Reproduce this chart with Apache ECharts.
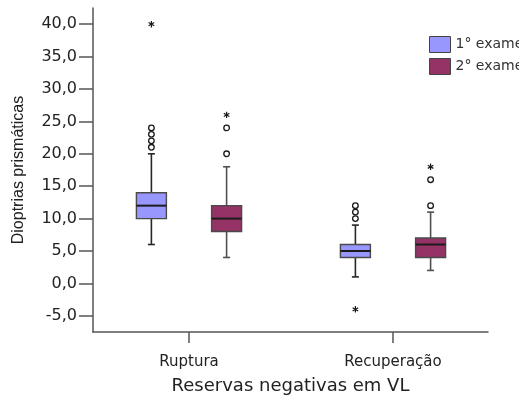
<!DOCTYPE html>
<html>
<head>
<meta charset="utf-8">
<script src="https://cdn.jsdelivr.net/npm/echarts@6/dist/echarts.min.js"></script>
<style>
  html, body { margin: 0; padding: 0; background: #fff; }
  #chart { width: 519px; height: 403px; }
</style>
</head>
<body>
<div id="chart"></div>
<script>
// Categories on the x axis
const categories = ['Ruptura', 'Recuperação'];
const seriesNames = ['1° exame', '2° exame'];

// Five-number summaries [min, Q1, median, Q3, max] per category
const exam1Box = [[6, 10, 12, 14, 20], [1, 4, 5, 6, 9]];
const exam2Box = [[4, 8, 10, 12, 18], [2, 4, 6, 7, 11]];

// Outliers (circles) and extreme values (asterisks) per category
const exam1Outliers = [[21, 22, 23, 24], [10, 11, 12]];
const exam1Extremes = [[40], [-4]];
const exam2Outliers = [[20, 24], [12, 16]];
const exam2Extremes = [[26], [18]];

// Y axis tick values
const yTicks = [-5, 0, 5, 10, 15, 20, 25, 30, 35, 40];

const colors = ['#9797fd', '#953366'];
const whiskerColors = ['#262626', '#505050'];
const BOX_OFFSET = 37.6;   // px from category centre
const BOX_HALF = 15;
const CAP_HALF = 3.5;

function boxData(box) {
  return box.map((v, i) => [i].concat(v));
}
function pointData(outliers, extremes) {
  const out = [];
  outliers.forEach((vals, i) => vals.forEach(v => out.push([i, v, 0])));
  extremes.forEach((vals, i) => vals.forEach(v => out.push([i, v, 1])));
  return out;
}

function boxRenderer(idx) {
  const sign = idx === 0 ? -1 : 1;
  return function (params, api) {
    const ci = api.value(0);
    const xc = api.coord([ci, api.value(3)])[0] + sign * BOX_OFFSET;
    const y = k => api.coord([ci, api.value(k)])[1];
    const yMin = y(1), yQ1 = y(2), yMed = y(3), yQ3 = y(4), yMax = y(5);
    const wStyle = { stroke: whiskerColors[idx], lineWidth: 1.6 };
    return {
      type: 'group',
      children: [
        { type: 'line', shape: { x1: xc, y1: yMax, x2: xc, y2: yQ3 }, style: wStyle },
        { type: 'line', shape: { x1: xc, y1: yQ1, x2: xc, y2: yMin }, style: wStyle },
        { type: 'line', shape: { x1: xc - CAP_HALF, y1: yMax, x2: xc + CAP_HALF, y2: yMax }, style: wStyle },
        { type: 'line', shape: { x1: xc - CAP_HALF, y1: yMin, x2: xc + CAP_HALF, y2: yMin }, style: wStyle },
        { type: 'rect', shape: { x: xc - BOX_HALF, y: yQ3, width: 2 * BOX_HALF, height: yQ1 - yQ3 },
          style: { fill: colors[idx], stroke: '#4a4a4a', lineWidth: 1.4 } },
        { type: 'line', shape: { x1: xc - BOX_HALF, y1: yMed, x2: xc + BOX_HALF, y2: yMed },
          style: { stroke: '#1c1c1c', lineWidth: 2 } }
      ]
    };
  };
}

function pointRenderer(idx) {
  const sign = idx === 0 ? -1 : 1;
  return function (params, api) {
    const p = api.coord([api.value(0), api.value(1)]);
    const x = p[0] + sign * BOX_OFFSET, yy = p[1];
    if (api.value(2) === 0) {
      return { type: 'circle', shape: { cx: x, cy: yy, r: 2.8 },
               style: { fill: '#fff', stroke: '#1a1a1a', lineWidth: 1.3 } };
    }
    const r = 3.2, s = { stroke: '#1a1a1a', lineWidth: 1.2 };
    const kids = [];
    for (let a = 0; a < 3; a++) {
      const ang = Math.PI / 2 + a * Math.PI / 3;
      kids.push({ type: 'line', shape: { x1: x - r * Math.cos(ang), y1: yy - r * Math.sin(ang),
                                         x2: x + r * Math.cos(ang), y2: yy + r * Math.sin(ang) }, style: s });
    }
    return { type: 'group', children: kids };
  };
}

const fmt = v => v.toFixed(1).replace('.', ',');
const textColor = '#222';

const chart = echarts.init(document.getElementById('chart'), null, { renderer: 'canvas' });
chart.setOption({
  animation: false,
  backgroundColor: '#fff',
  legend: {
    orient: 'vertical',
    left: 429, top: 36,
    itemWidth: 21, itemHeight: 16, itemGap: 5,
    padding: 0,
    icon: 'rect',
    textStyle: { fontFamily: 'DejaVu Sans', fontSize: 14, color: '#333' },
    data: seriesNames.map((n, i) => ({ name: n, itemStyle: { color: colors[i], borderColor: '#444', borderWidth: 1 } }))
  },
  grid: [
    { left: 93, right: 31, top: 8, bottom: 71, outerBoundsMode: 'none' },
    { left: 87, right: 24, top: 8, bottom: 71, outerBoundsMode: 'none' }
  ],
  xAxis: [
    {
      gridIndex: 0, type: 'category', data: categories,
      axisLine: { show: true, onZero: false, lineStyle: { color: '#555', width: 1.5 } },
      axisTick: { show: false }, axisLabel: { show: false }, splitLine: { show: false },
      name: 'Reservas negativas em VL', nameLocation: 'middle', nameGap: 45,
      nameTextStyle: { fontFamily: 'DejaVu Sans', fontSize: 18, color: textColor }
    },
    {
      gridIndex: 1, type: 'category', data: categories,
      axisLine: { show: false, onZero: false },
      axisTick: { show: true, alignWithLabel: true, length: 11, lineStyle: { color: '#555', width: 1.5 } },
      axisLabel: { margin: 23, fontFamily: 'DejaVu Sans', fontSize: 15, color: textColor },
      splitLine: { show: false }
    }
  ],
  yAxis: [
    {
      gridIndex: 0, type: 'value', min: -7.5, max: 42.5,
      axisLine: { show: true, lineStyle: { color: '#555', width: 1.5 } },
      axisTick: { show: true, length: 14, customValues: yTicks, lineStyle: { color: '#555', width: 1.5 } },
      axisLabel: { margin: 16, customValues: yTicks, formatter: fmt,
                   fontFamily: 'DejaVu Sans', fontSize: 16, color: textColor },
      splitLine: { show: false },
      name: 'Dioptrias prismáticas', nameLocation: 'middle', nameGap: 66,
      nameTextStyle: { fontFamily: 'Liberation Sans', fontSize: 16, color: textColor }
    },
    {
      gridIndex: 1, type: 'value', min: -7.5, max: 42.5, show: false, splitLine: { show: false }
    }
  ],
  series: [
    { name: seriesNames[0], type: 'custom', xAxisIndex: 1, yAxisIndex: 1,
      itemStyle: { color: colors[0] },
      encode: { x: 0, y: [1, 2, 3, 4, 5] },
      renderItem: boxRenderer(0), data: boxData(exam1Box) },
    { name: seriesNames[1], type: 'custom', xAxisIndex: 1, yAxisIndex: 1,
      itemStyle: { color: colors[1] },
      encode: { x: 0, y: [1, 2, 3, 4, 5] },
      renderItem: boxRenderer(1), data: boxData(exam2Box) },
    { name: seriesNames[0], type: 'custom', xAxisIndex: 1, yAxisIndex: 1,
      itemStyle: { color: colors[0] },
      encode: { x: 0, y: 1 },
      renderItem: pointRenderer(0), data: pointData(exam1Outliers, exam1Extremes) },
    { name: seriesNames[1], type: 'custom', xAxisIndex: 1, yAxisIndex: 1,
      itemStyle: { color: colors[1] },
      encode: { x: 0, y: 1 },
      renderItem: pointRenderer(1), data: pointData(exam2Outliers, exam2Extremes) }
  ]
});
</script>
</body>
</html>
